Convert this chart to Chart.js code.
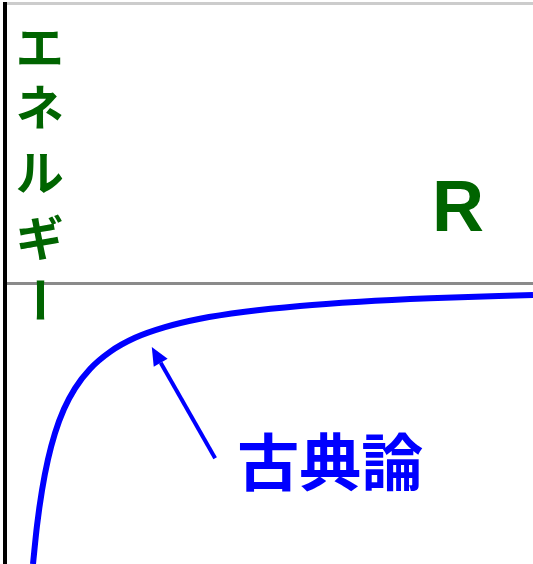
<!DOCTYPE html>
<html lang="ja">
<head>
  <meta charset="UTF-8" />
  <title>エネルギー - 古典論</title>
  <script src="https://cdn.jsdelivr.net/npm/chart.js"></script>
  <style>
    body {
      margin: 0;
      background: #fff;
    }
    canvas {
      display: block;
    }
  </style>
</head>
<body>
  <canvas id="energyChart" width="533" height="564"></canvas>

  <script>
    // Classical curve: distance R vs energy
    const distanceR = [0.53, 0.606, 0.701, 0.814, 0.947, 1.117, 1.326, 1.61, 1.989, 2.462, 3.03, 3.693, 4.545, 5.587, 6.723, 8.049, 10.0];
    const energy = [-1.0, -0.863, -0.737, -0.627, -0.533, -0.447, -0.373, -0.304, -0.243, -0.193, -0.155, -0.125, -0.100, -0.079, -0.064, -0.052, -0.040];

    const yAxisTitle = ['エ', 'ネ', 'ル', 'ギ', 'ー'];
    const xAxisTitle = 'R';
    const curveLabel = '古典論';

    // label anchors, in axis units
    const yTitleR = 0.66;
    const yTitleE = [0.844, 0.630, 0.398, 0.163, -0.058];
    const xTitleAt = { r: 8.58, e: 0.259 };
    const curveLabelAt = { r: 6.16, e: -0.636 };
    const arrowFrom = { r: 3.98, e: -0.623 };
    const arrowTo = { r: 2.78, e: -0.226 };

    const GREEN = '#006400';
    const BLUE = '#0000ff';

    const labels = {
      id: 'labels',
      afterDatasetsDraw(chart) {
        const { ctx, scales: { x, y } } = chart;
        ctx.save();
        ctx.textAlign = 'center';
        ctx.textBaseline = 'middle';

        // vertical energy title
        ctx.fillStyle = GREEN;
        ctx.font = 'bold 48px "Noto Sans CJK JP"';
        yAxisTitle.forEach((ch, i) => {
          const px = x.getPixelForValue(yTitleR);
          const py = y.getPixelForValue(yTitleE[i]);
          if (ch === 'ー') {
            ctx.save();
            ctx.translate(px, py);
            ctx.rotate(Math.PI / 2);
            ctx.fillText(ch, 0, 0);
            ctx.restore();
          } else {
            ctx.fillText(ch, px, py);
          }
        });

        // R
        ctx.font = 'bold 72px "Liberation Sans", Arial, sans-serif';
        ctx.fillText(xAxisTitle, x.getPixelForValue(xTitleAt.r), y.getPixelForValue(xTitleAt.e));

        // 古典論
        ctx.fillStyle = BLUE;
        ctx.font = 'bold 62px "Noto Sans CJK JP"';
        ctx.fillText(curveLabel, x.getPixelForValue(curveLabelAt.r), y.getPixelForValue(curveLabelAt.e));

        // arrow
        const x0 = x.getPixelForValue(arrowFrom.r), y0 = y.getPixelForValue(arrowFrom.e);
        const x1 = x.getPixelForValue(arrowTo.r), y1 = y.getPixelForValue(arrowTo.e);
        const ang = Math.atan2(y1 - y0, x1 - x0);
        const headLen = 18, headW = 8;
        const bx = x1 - headLen * Math.cos(ang), by = y1 - headLen * Math.sin(ang);
        ctx.strokeStyle = BLUE;
        ctx.lineWidth = 4;
        ctx.beginPath();
        ctx.moveTo(x0, y0);
        ctx.lineTo(bx, by);
        ctx.stroke();
        ctx.beginPath();
        ctx.moveTo(x1, y1);
        ctx.lineTo(bx + headW * Math.sin(ang), by - headW * Math.cos(ang));
        ctx.lineTo(bx - headW * Math.sin(ang), by + headW * Math.cos(ang));
        ctx.closePath();
        ctx.fill();
        ctx.restore();
      }
    };

    new Chart(document.getElementById('energyChart'), {
      type: 'line',
      data: {
        labels: distanceR,
        datasets: [{
          label: curveLabel,
          data: distanceR.map((r, i) => ({ x: r, y: energy[i] })),
          borderColor: BLUE,
          borderWidth: 6,
          pointRadius: 0,
          cubicInterpolationMode: 'monotone',
          fill: false
        }]
      },
      options: {
        responsive: false,
        animation: false,
        devicePixelRatio: 1,
        layout: { padding: { left: 5, top: 3.5, right: 0, bottom: 0 } },
        plugins: {
          legend: { display: false },
          tooltip: { enabled: false }
        },
        scales: {
          x: {
            type: 'linear',
            min: 0,
            max: 10,
            ticks: { display: false },
            grid: { display: false, drawTicks: false },
            border: { display: false }
          },
          y: {
            min: -1,
            max: 1,
            ticks: { display: false, stepSize: 1 },
            grid: {
              drawTicks: false,
              lineWidth: 3,
              color: ctx => {
                if (!ctx.tick) return 'transparent';
                if (ctx.tick.value === 0) return '#8a8a8a';
                if (ctx.tick.value === 1) return '#cccccc';
                return 'transparent';
              }
            },
            border: { display: true, color: '#000', width: 4 }
          }
        }
      },
      plugins: [labels]
    });
  </script>
</body>
</html>
